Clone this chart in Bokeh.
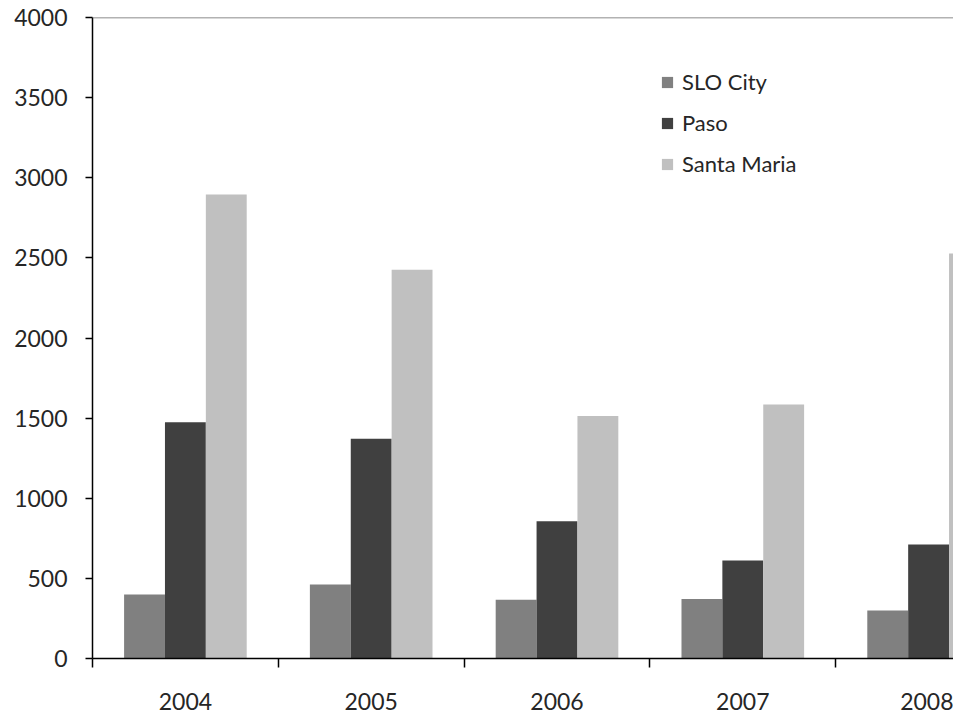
from bokeh.plotting import figure
from bokeh.models import (ColumnDataSource, Range1d, FixedTicker, Span, Legend,
                          LegendItem)
from bokeh.transform import dodge
from bokeh.embed import file_html
from bokeh.resources import INLINE

years = ["2004", "2005", "2006", "2007", "2008"]
slo_city = [400, 462, 366, 372, 300]
paso = [1475, 1371, 857, 612, 711]
santa_maria = [2895, 2426, 1514, 1585, 2528]
y_ticks = [0, 500, 1000, 1500, 2000, 2500, 3000, 3500, 4000]

centers = [i + 0.5 for i in range(len(years))]
src = ColumnDataSource(dict(x=centers, years=years, slo=slo_city,
                            paso=paso, sm=santa_maria))

FONT = "Lato"
TXT = "#262626"
FS = "23px"

p = figure(frame_width=861, frame_height=641, output_backend="svg",
           toolbar_location=None, x_range=Range1d(0, 4.634),
           y_range=Range1d(0, 4000),
           min_border_left=92, min_border_right=0, min_border_top=17,
           min_border_bottom=55)
p.outline_line_color = None
p.xgrid.visible = False
p.ygrid.visible = False
p.background_fill_color = "white"
p.border_fill_color = "white"

bw = 0.22
r1 = p.vbar(x=dodge("x", -bw, range=p.x_range), top="slo", width=bw,
            source=src, fill_color="#808080", line_color=None)
r2 = p.vbar(x=dodge("x", 0, range=p.x_range), top="paso", width=bw,
            source=src, fill_color="#404040", line_color=None)
r3 = p.vbar(x=dodge("x", bw, range=p.x_range), top="sm", width=bw,
            source=src, fill_color="#C0C0C0", line_color=None)

p.add_layout(Span(location=y_ticks[-1], dimension="width",
                  line_color="#666666", line_width=1.5))

# y axis
ya = p.yaxis[0]
ya.ticker = FixedTicker(ticks=y_ticks)
ya.axis_line_color = "black"
ya.axis_line_width = 1.5
ya.major_tick_line_color = "black"
ya.major_tick_line_width = 1.5
ya.major_tick_in = 0
ya.major_tick_out = 7
ya.minor_tick_line_color = None
ya.major_label_standoff = 18
ya.major_label_text_font = FONT
ya.major_label_text_font_size = FS
ya.major_label_text_color = TXT

# x axis
xa = p.xaxis[0]
xa.ticker = FixedTicker(ticks=centers, minor_ticks=list(range(len(years))))
xa.major_label_overrides = {c: y for c, y in zip(centers, years)}
xa.axis_line_color = "black"
xa.axis_line_width = 1.5
xa.major_tick_line_color = None
xa.major_tick_in = 0
xa.major_tick_out = 0
xa.minor_tick_line_color = "black"
xa.minor_tick_line_width = 1.5
xa.minor_tick_in = 0
xa.minor_tick_out = 9
xa.major_label_standoff = 25
xa.major_label_text_font = FONT
xa.major_label_text_font_size = FS
xa.major_label_text_color = TXT

legend = Legend(items=[LegendItem(label="SLO City", renderers=[r1]),
                       LegendItem(label="Paso", renderers=[r2]),
                       LegendItem(label="Santa Maria", renderers=[r3])],
                location=(568, 481), padding=0, margin=0, spacing=14,
                glyph_width=14, glyph_height=14, label_standoff=8,
                label_height=26, border_line_color=None,
                background_fill_alpha=0)
legend.label_text_font = FONT
legend.label_text_font_size = "22px"
legend.label_text_color = TXT
p.add_layout(legend)

open("out.html", "w").write(file_html(p, INLINE))
